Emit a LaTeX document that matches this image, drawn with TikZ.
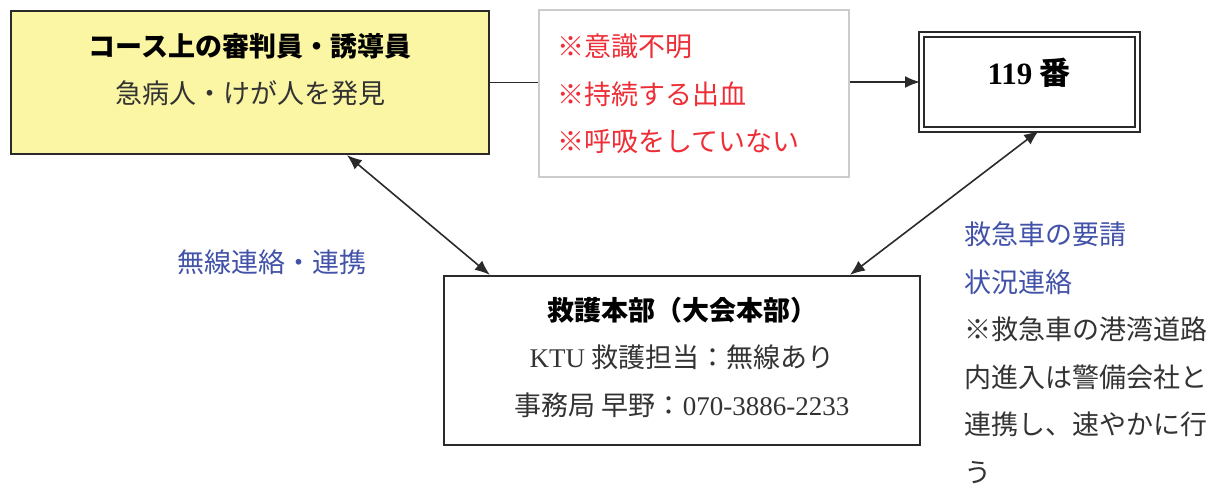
\documentclass[tikz,border=0pt]{standalone}
\usepackage{fontspec}
\setmainfont{Liberation Serif}
\newfontfamily\jp{Noto Sans CJK JP}
\usetikzlibrary{arrows.meta}
\definecolor{boxyellow}{HTML}{FBF6A3}
\definecolor{boxline}{HTML}{2A2A2A}
\definecolor{redtxt}{HTML}{EE2E36}
\definecolor{bluetxt}{HTML}{4152A8}
\definecolor{graytxt}{HTML}{333333}
\definecolor{lightgray}{HTML}{CCCCCC}
\tikzset{
  jpfont/.style={font=\jp\fontsize{27}{47.5}\selectfont},
  txt/.style={jpfont, inner sep=0pt},
  arr/.style={line width=1.6pt, draw=boxline, {Latex[length=15pt,width=12pt]}-{Latex[length=15pt,width=12pt]}},
  onearr/.style={line width=1.8pt, draw=boxline, -{Latex[length=15pt,width=12pt]}},
}
\begin{document}
\begin{tikzpicture}[x=1pt,y=-1pt]
\useasboundingbox (0,0) rectangle (1223,486);
% boxes
\node[draw=boxline, line width=2.2pt, fill=boxyellow, minimum width=478pt, minimum height=143pt, inner sep=0pt] (yel) at (250,82.5) {};
\node[draw=lightgray, line width=2pt, minimum width=310pt, minimum height=167pt, inner sep=0pt] (red) at (693.5,94) {};
\node[draw=boxline, line width=2pt, double, double distance=3pt, minimum width=216pt, minimum height=95pt, inner sep=0pt] (n119) at (1029,82) {};
\node[draw=boxline, line width=2.2pt, minimum width=476pt, minimum height=169pt, inner sep=0pt] (hq) at (682,360.5) {};
% texts
\node[txt, align=center, text=black] (yeltxt) at (250,69.5) {\bfseries コース上の審判員・誘導員\\\color{graytxt}急病人・けが人を発見};
\node[txt, align=left, text=redtxt, anchor=west] (redtxt) at (557,94) {※意識不明\\※持続する出血\\※呼吸をしていない};
\node[txt, text=black, font=\jp\fontsize{31}{36}\selectfont] (t119) at (1029,73) {\bfseries{\rmfamily\bfseries 119} 番};
\node[txt, align=center, text=graytxt] (hqtxt) at (682,357) {{\color{black}\bfseries 救護本部（大会本部）}\\{\rmfamily KTU} 救護担当：無線あり\\事務局\ 早野：{\rmfamily 070-3886-2233}};
\node[txt, text=bluetxt, anchor=west] (bluel) at (177,262) {無線連絡・連携};
\node[txt, align=left, anchor=west, text=graytxt] (rtxt) at (964,353) {{\color{bluetxt}救急車の要請}\\{\color{bluetxt}状況連絡}\\※救急車の港湾道路\\内進入は警備会社と\\連携し、速やかに行\\う};
% connectors
\draw[line width=1.8pt, draw=boxline] (yel.east) -- (yel.east -| red.west);
\draw[onearr] (red.east |- n119.west) -- (n119.west);
\draw[arr] ([xshift=337pt]yel.south west) -- ([xshift=47pt]hq.north west);
\draw[arr] ([xshift=119pt]n119.south west) -- ([xshift=407pt]hq.north west);
\end{tikzpicture}
\end{document}
